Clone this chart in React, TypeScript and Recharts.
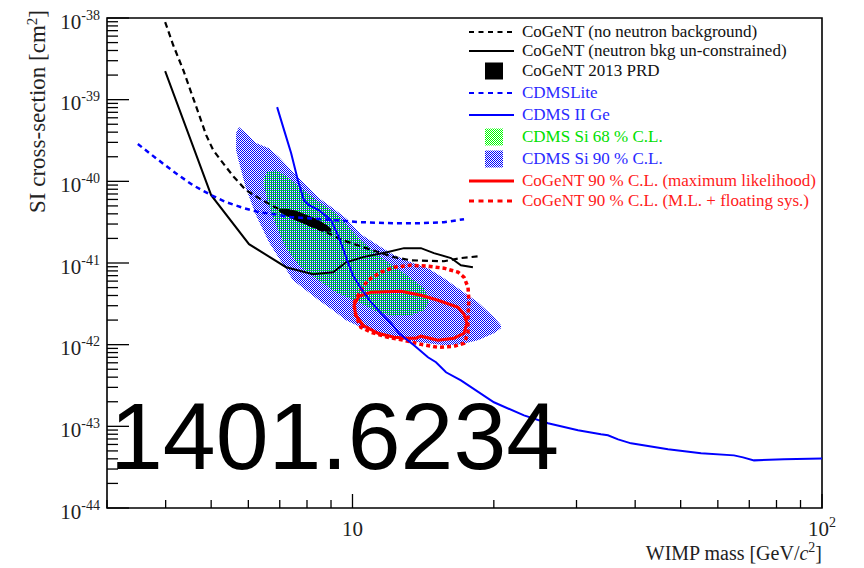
import { Area, ComposedChart, Line, ReferenceArea, XAxis, YAxis } from "recharts";

const serif = "Liberation Serif, Times New Roman, serif";

// [WIMP mass GeV, SI cross-section cm^2]
const cogentNoNeutron: [number, number][] = [
  [3.99, 8.93e-39], [4.15, 4.67e-39], [4.36, 2.31e-39], [4.53, 1.24e-39],
  [4.69, 7.05e-40], [4.88, 3.68e-40], [5.05, 2.41e-40], [5.3, 1.67e-40],
  [5.59, 1.13e-40], [5.93, 7.8e-41], [6.32, 6.23e-41], [6.77, 4.97e-41],
  [7.4, 3.85e-41], [8.08, 2.91e-41], [8.78, 2.39e-41], [9.54, 1.9e-41],
  [10.69, 1.52e-41], [12.26, 1.18e-41], [13.32, 1.08e-41], [15.66, 1.05e-41],
  [17.02, 1.15e-41], [18.6, 1.21e-41],
];

const cogentUnconstrained: [number, number][] = [
  [3.99, 2.24e-39], [5.0, 6.77e-41], [6.02, 1.7e-41], [7.22, 8.88e-42],
  [8.24, 7.29e-42], [9.09, 7.72e-42], [9.69, 1.02e-41], [10.53, 1.18e-41],
  [11.9, 1.36e-41], [12.87, 1.52e-41], [13.99, 1.52e-41], [14.91, 1.32e-41],
  [16.21, 1.15e-41], [17.02, 9.4e-42], [18.05, 8.88e-42],
];

const cdmsLite: [number, number][] = [
  [3.49, 2.86e-40], [3.815, 1.92e-40], [4.17, 1.3e-40], [4.57, 8.98e-41],
  [5.0, 6.77e-41], [5.38, 5.56e-41], [5.87, 4.69e-41], [6.32, 4.19e-41],
  [6.81, 3.96e-41], [7.4, 3.64e-41], [8.04, 3.54e-41], [9.13, 3.35e-41],
  [10.42, 3.16e-41], [12.26, 3.07e-41], [13.99, 3.07e-41], [15.66, 3.16e-41],
  [17.28, 3.44e-41],
];

const cdmsIIGe: [number, number][] = [
  [6.91, 8.11e-40], [7.15, 4.24e-40], [7.4, 2.22e-40], [7.65, 1.03e-40],
  [7.88, 5.89e-41], [8.08, 5.11e-41], [8.48, 4.44e-41], [9.0, 3.35e-41],
  [9.31, 2.19e-41], [9.54, 1.52e-41], [9.78, 1.02e-41], [10.02, 7.09e-42],
  [10.42, 4.91e-42], [10.95, 3.31e-42], [11.5, 2.43e-42], [12.08, 1.83e-42],
  [12.56, 1.38e-42], [13.52, 9.83e-43], [14.48, 7.01e-43], [15.06, 6.09e-43],
  [15.82, 4.59e-43], [17.02, 3.66e-43], [20.01, 1.97e-43], [23.19, 1.36e-43],
  [26.09, 1.09e-43], [30.22, 8.93e-44], [33.82, 7.98e-44], [35.0, 7.76e-44],
  [36.78, 6.93e-44], [39.2, 6.19e-44], [46.99, 5.23e-44], [55.26, 4.67e-44],
  [64.95, 4.41e-44], [67.88, 4.17e-44], [71.64, 3.83e-44], [83.02, 3.94e-44],
  [100, 4.05e-44],
];

// closed contours, in drawing order
const cogentML: [number, number][] = [
  [10.07, 3.04e-42], [10.32, 3.92e-42], [10.95, 4.39e-42], [12.69, 4.51e-42],
  [13.99, 4.03e-42], [15.21, 3.5e-42], [16.78, 2.87e-42], [17.28, 2.36e-42],
  [17.53, 1.83e-42], [17.28, 1.38e-42], [16.45, 1.2e-42], [15.21, 1.13e-42],
  [13.99, 1.27e-42], [13.65, 1.2e-42], [13.13, 1.2e-42], [12.26, 1.23e-42],
  [11.33, 1.38e-42], [10.53, 1.73e-42], [10.17, 2.29e-42], [10.07, 3.04e-42],
];

const cogentMLSys: [number, number][] = [
  [10.07, 3.22e-42], [10.42, 4.64e-42], [10.79, 6.16e-42], [11.5, 7.72e-42],
  [12.26, 8.88e-42], [13.32, 9.4e-42], [14.48, 9.14e-42], [15.66, 8.64e-42],
  [16.78, 7.72e-42], [17.28, 6.7e-42], [17.62, 5.05e-42], [17.7, 3.5e-42],
  [17.62, 2.17e-42], [17.62, 1.38e-42], [17.28, 1.04e-42], [16.45, 9.56e-43],
  [15.21, 9.29e-43], [13.99, 1.01e-42], [12.87, 1.13e-42], [11.9, 1.23e-42],
  [10.95, 1.42e-42], [10.42, 1.63e-42], [10.17, 2.23e-42], [10.07, 3.22e-42],
];

// [mass, lower edge, upper edge]
const cdmsSi90: [number, number, number][] = [
  [5.65, 2.41e-40, 3.9e-40], [5.73, 1.72e-40, 4.62e-40], [5.93, 8.25e-41, 3.9e-40],
  [6.23, 3.85e-41, 2.94e-40], [6.64, 1.8e-41, 2.55e-40], [6.97, 1.15e-41, 1.98e-40],
  [7.47, 6.16e-42, 1.3e-40], [7.96, 4.64e-42, 8.98e-41], [8.48, 3.5e-42, 6.23e-41],
  [9.09, 2.64e-42, 4.69e-41], [9.69, 1.99e-42, 3.54e-41], [10.42, 1.63e-42, 2.25e-41],
  [11.33, 1.42e-42, 1.65e-41], [12.26, 1.23e-42, 1.25e-41], [13.32, 1.1e-42, 1.02e-41],
  [14.48, 1.04e-42, 8.64e-42], [15.66, 9.83e-43, 6.51e-42], [17.02, 1.01e-42, 4.64e-42],
  [18.5, 1.13e-42, 3.31e-42], [20.01, 1.38e-42, 2.17e-42], [20.72, 1.59e-42, 1.73e-42],
];

const cdmsSi68: [number, number, number][] = [
  [6.48, 8.98e-41, 1.09e-40], [6.58, 5.89e-41, 1.3e-40], [6.87, 2.91e-41, 1.37e-40],
  [7.22, 1.52e-41, 1.16e-40], [7.69, 9.4e-42, 8.73e-41], [8.36, 6.51e-42, 5.89e-41],
  [9.22, 4.39e-42, 4.08e-41], [10.32, 3.31e-42, 2.01e-41], [11.33, 2.5e-42, 1.25e-41],
  [12.26, 2.23e-42, 9.14e-42], [13.32, 2.29e-42, 6.51e-42], [14.2, 2.64e-42, 4.91e-42],
  [14.55, 3.31e-42, 3.6e-42],
];

const cogent2013: [number, number, number][] = [
  [6.97, 4.31e-41, 4.56e-41], [7.22, 3.85e-41, 4.56e-41], [7.58, 3.35e-41, 4.31e-41],
  [7.96, 2.99e-41, 3.85e-41], [8.36, 2.67e-41, 3.44e-41], [8.78, 2.45e-41, 2.91e-41],
  [9.0, 2.45e-41, 2.6e-41],
];

const yDecades = [-44, -43, -42, -41, -40, -39, -38];
const xDecades = [1, 2];
const xLowMinor = [3, 4, 5, 6, 7, 8, 9];
const minorSteps = [2, 3, 4, 5, 6, 7, 8, 9];

const legendItems = [
  { label: "CoGeNT (no neutron background)", color: "#000", text: "#111", kind: "dash" },
  { label: "CoGeNT (neutron bkg un-constrained)", color: "#000", text: "#111", kind: "line" },
  { label: "CoGeNT 2013 PRD", color: "#000", text: "#111", kind: "box" },
  { label: "CDMSLite", color: "#0000ff", text: "#2a2aff", kind: "dash" },
  { label: "CDMS II Ge", color: "#0000ff", text: "#2a2aff", kind: "line" },
  { label: "CDMS Si 68 % C.L.", color: "url(#lgGreen)", text: "#00e000", kind: "box" },
  { label: "CDMS Si 90 % C.L.", color: "url(#lgBlue)", text: "#2a2aff", kind: "box" },
  { label: "CoGeNT 90 % C.L. (maximum likelihood)", color: "#ff0000", text: "#ff1a1a", kind: "line" },
  { label: "CoGeNT 90 % C.L. (M.L. + floating sys.)", color: "#ff0000", text: "#ff1a1a", kind: "dash" },
];
const legendBaselines = [37, 56, 76, 98, 120, 142, 164, 186, 206];

const pts = (a: [number, number][]) => a.map(([m, s]) => ({ m, s }));
const band = (a: [number, number, number][]) => a.map(([m, lo, hi]) => ({ m, r: [lo, hi] }));

const yTicks: number[] = [];
yDecades.forEach((e) => {
  yTicks.push(Math.pow(10, e));
  if (e < -38) minorSteps.forEach((k) => yTicks.push(k * Math.pow(10, e)));
});
const xTicks: number[] = [...xLowMinor];
xDecades.forEach((e) => {
  xTicks.push(Math.pow(10, e));
  if (e < 2) minorSteps.forEach((k) => xTicks.push(k * Math.pow(10, e)));
});

const isMajor = (v: number) => Math.abs(Math.log10(v) - Math.round(Math.log10(v))) < 1e-6;

function YTick({ x, y, payload }: any) {
  const v = payload.value;
  const major = isMajor(v);
  const e = Math.round(Math.log10(v));
  return (
    <g>
      <line x1={x} x2={x + (major ? 22 : 11)} y1={y} y2={y} stroke="#000" strokeWidth={1.3} />
      {major && (
        <text x={x - 7} y={y + 10.5} textAnchor="end" style={{ fontFamily: serif }} fontSize={21} fill="#222">
          10<tspan dy={-9} fontSize={14}>{String(e)}</tspan>
        </text>
      )}
    </g>
  );
}

function XTick({ x, y, payload }: any) {
  const v = payload.value;
  const major = isMajor(v);
  const e = Math.round(Math.log10(v));
  return (
    <g>
      <line x1={x} x2={x} y1={y} y2={y - (major ? 14 : 8)} stroke="#000" strokeWidth={1.3} />
      {major && (
        <text x={x} y={y + 28} textAnchor="middle" style={{ fontFamily: serif }} fontSize={21} fill="#222">
          10
          {e > 1 && (
            <tspan dy={-9} fontSize={14}>
              {String(e)}
            </tspan>
          )}
        </text>
      )}
    </g>
  );
}

function Overlay() {
  return (
    <svg width={864} height={568} style={{ position: "absolute", left: 0, top: 0, pointerEvents: "none" }}>
      <defs>
        <pattern id="lgBlue" width="2" height="2" patternUnits="userSpaceOnUse">
          <rect x="0" y="0" width="1" height="1" fill="#0000ff" />
          <rect x="1" y="1" width="1" height="1" fill="#0000ff" />
        </pattern>
        <pattern id="lgGreen" width="2" height="2" patternUnits="userSpaceOnUse">
          <rect x="0" y="0" width="1" height="1" fill="#00ff00" />
          <rect x="1" y="1" width="1" height="1" fill="#00ff00" />
        </pattern>
      </defs>
      {legendItems.map((it, i) => {
        const base = legendBaselines[i];
        const cy = base - 5;
        return (
          <g key={it.label}>
            {it.kind === "box" && <rect x={485} y={cy - 8.5} width={18} height={17} fill={it.color} />}
            {it.kind !== "box" && (
              <line
                x1={469}
                x2={514}
                y1={cy}
                y2={cy}
                stroke={it.color}
                strokeWidth={it.color === "#ff0000" ? 3 : 2.2}
                strokeDasharray={it.kind === "dash" ? "5 4.5" : undefined}
              />
            )}
            <text x={522} y={base} style={{ fontFamily: serif }} fontSize={17} fill={it.text}>
              {it.label}
            </text>
          </g>
        );
      })}
      <text x={110} y={469} style={{ fontFamily: "Liberation Sans, Arial, sans-serif" }} fontSize={95} fill="#000">
        1401.6234
      </text>
      <text transform="translate(45,10) rotate(-90)" textAnchor="end" style={{ fontFamily: serif }} fontSize={23} fill="#222">
        SI cross-section [cm<tspan dy={-8} fontSize={15}>2</tspan>
        <tspan dy={8}>]</tspan>
      </text>
      <text x={822} y={560} textAnchor="end" style={{ fontFamily: serif }} fontSize={20} fill="#222">
        WIMP mass [GeV/<tspan fontStyle="italic">c</tspan>
        <tspan dy={-8} fontSize={14}>2</tspan>
        <tspan dy={8}>]</tspan>
      </text>
    </svg>
  );
}

export default function App() {
  return (
    <div style={{ position: "absolute", left: 0, top: 0, width: 864, height: 568, background: "#fff" }}>
      <ComposedChart width={864} height={568} margin={{ top: 18, right: 42, bottom: 0, left: 7 }}>
        <defs>
          <pattern id="patBlue" width="2" height="2" patternUnits="userSpaceOnUse">
            <rect x="0" y="0" width="1" height="1" fill="#0000ff" />
            <rect x="1" y="1" width="1" height="1" fill="#0000ff" />
          </pattern>
          <pattern id="patGreen" width="2" height="2" patternUnits="userSpaceOnUse">
            <rect x="0" y="0" width="1" height="1" fill="#00d040" />
            <rect x="1" y="0" width="1" height="1" fill="#00d040" />
          </pattern>
        </defs>
        <XAxis
          type="number"
          dataKey="m"
          scale="log"
          domain={[3, 100]}
          allowDataOverflow
          ticks={xTicks}
          interval={0}
          height={60}
          tickSize={0}
          tickMargin={0}
          axisLine={false}
          tick={<XTick />}
        />
        <YAxis
          type="number"
          scale="log"
          domain={[1e-44, 1e-38]}
          allowDataOverflow
          ticks={yTicks}
          interval={0}
          width={100}
          tickSize={0}
          tickMargin={0}
          axisLine={false}
          tick={<YTick />}
        />
        <Area data={band(cdmsSi90)} dataKey="r" type="linear" stroke="none" fill="url(#patBlue)" fillOpacity={1} isAnimationActive={false} />
        <Line data={pts(cogentNoNeutron)} dataKey="s" type="linear" stroke="#000" strokeWidth={2.2} strokeDasharray="6 4" dot={false} activeDot={false} isAnimationActive={false} />
        <Line data={pts(cogentUnconstrained)} dataKey="s" type="linear" stroke="#000" strokeWidth={2} dot={false} activeDot={false} isAnimationActive={false} />
        <Line data={pts(cogentML)} dataKey="s" type="linear" stroke="#ff0000" strokeWidth={3} dot={false} activeDot={false} isAnimationActive={false} />
        <Line data={pts(cogentMLSys)} dataKey="s" type="linear" stroke="#ff0000" strokeWidth={3.5} strokeDasharray="4 3" dot={false} activeDot={false} isAnimationActive={false} />
        <Area data={band(cdmsSi68)} dataKey="r" type="linear" stroke="none" fill="url(#patGreen)" fillOpacity={1} isAnimationActive={false} />
        <Area data={band(cogent2013)} dataKey="r" type="linear" stroke="#000" strokeWidth={1} fill="#000" fillOpacity={1} isAnimationActive={false} />
        <Line data={pts(cdmsLite)} dataKey="s" type="linear" stroke="#0000ff" strokeWidth={2.5} strokeDasharray="5 4" dot={false} activeDot={false} isAnimationActive={false} />
        <Line data={pts(cdmsIIGe)} dataKey="s" type="linear" stroke="#0000ff" strokeWidth={2} dot={false} activeDot={false} isAnimationActive={false} />
        <ReferenceArea x1={3} x2={100} y1={1e-44} y2={1e-38} fill="none" stroke="#000" strokeWidth={1.6} ifOverflow="visible" />
      </ComposedChart>
      <Overlay />
    </div>
  );
}
